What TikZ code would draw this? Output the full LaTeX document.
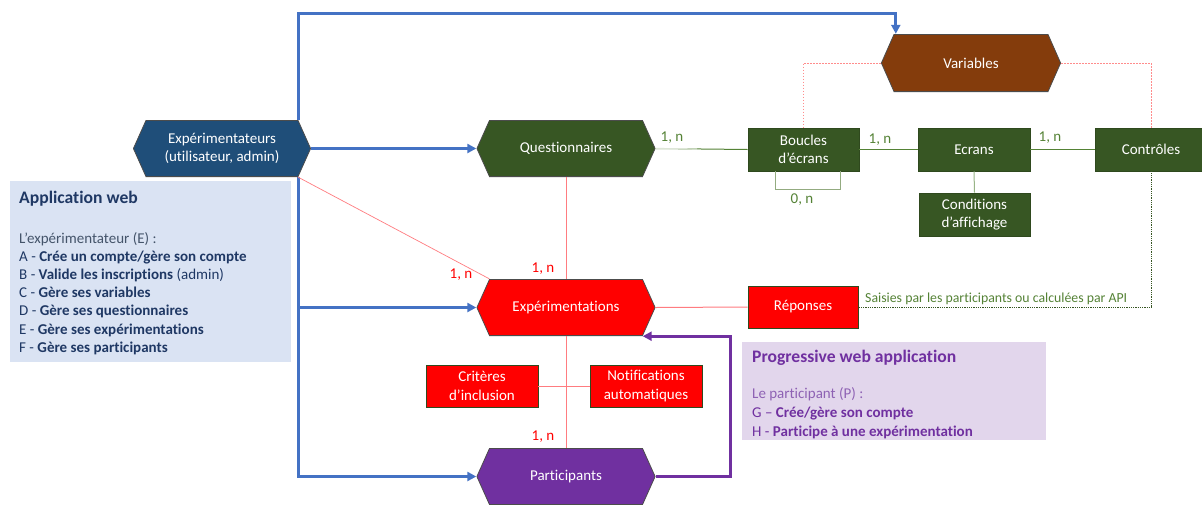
\documentclass[tikz,border=0pt]{standalone}
\usepackage{fontspec}
\setmainfont{Carlito}[Ligatures=NoCommon]
\usetikzlibrary{arrows.meta,calc}
\definecolor{hexblue}{HTML}{1F4E79}
\definecolor{dgreen}{HTML}{375623}
\definecolor{varbrown}{HTML}{843C0C}
\definecolor{pviolet}{HTML}{7030A0}
\definecolor{conblue}{HTML}{4472C4}
\definecolor{lnred}{HTML}{FF7C80}
\definecolor{lngreen}{HTML}{548235}
\definecolor{appfill}{HTML}{DAE3F3}
\definecolor{pwafill}{HTML}{E2D6EC}
\definecolor{navy}{HTML}{1F3864}
\definecolor{slate}{HTML}{44546A}
\definecolor{lightviolet}{HTML}{8E62B4}
\definecolor{pinkline}{HTML}{FF8C8C}
\definecolor{loopgreen}{HTML}{93AB80}
\newcommand\fs[2]{\fontsize{#1}{#2}\selectfont}
\begin{document}
\begin{tikzpicture}[x=1pt,y=-1pt,
  hexa/.style={inner sep=0pt, minimum width=179pt, minimum height=57pt, text=white, align=center,
    font=\fs{15}{18.3},
    path picture={\filldraw[fill=#1, draw=black!70, line width=0.8pt]
      ([xshift=0.4pt]path picture bounding box.west)
      -- ([xshift=13pt,yshift=-0.4pt]path picture bounding box.north west)
      -- ([xshift=-13pt,yshift=-0.4pt]path picture bounding box.north east)
      -- ([xshift=-0.4pt]path picture bounding box.east)
      -- ([xshift=-13pt,yshift=0.4pt]path picture bounding box.south east)
      -- ([xshift=13pt,yshift=0.4pt]path picture bounding box.south west) -- cycle;}},
  rectbox/.style={fill=#1, draw=dgreen!85!black, line width=0.7pt, minimum width=111pt, minimum height=43pt,
    inner sep=1pt, text=white, align=center, font=\fs{15}{18.3}},
  bluecon/.style={draw=conblue, line width=3pt, -{Triangle[length=9pt,width=9pt]}},
  purcon/.style={draw=pviolet, line width=3pt, -{Triangle[length=9pt,width=9pt]}},
  redcon/.style={draw=lnred, line width=1pt},
  redthin/.style={draw=lnred, line width=0.7pt},
  greencon/.style={draw=lngreen, line width=1pt},
  greenlight/.style={draw=lngreen!60, line width=1pt},
  loopcon/.style={draw=loopgreen, line width=1pt},
  greendot/.style={draw=dgreen, line width=0.8pt, densely dotted},
  pinkdot/.style={draw=pinkline, line width=1pt, dash pattern=on 1.5pt off 1.5pt},
  glabel/.style={inner sep=0pt, text=lngreen, font=\fs{15}{18}},
  rlabel/.style={inner sep=0pt, text=red, font=\fs{15}{18}},
  appline/.style={anchor=base west, inner sep=0pt, text=navy, font=\fs{15}{18.2}},
  pwaline/.style={anchor=base west, inner sep=0pt, text=pviolet, font=\fs{15}{18.2}},
]
\useasboundingbox (0,0) rectangle (1202,504);
\fill[white] (0,0) rectangle (1202,504);

% info boxes
\node[fill=appfill, minimum width=281pt, minimum height=181pt, anchor=north west, inner sep=0pt] (appweb) at (10,181) {};
\node[appline, font=\fs{17.6}{20}\bfseries] (appt) at (19,203) {Application web};
\node[appline, text=slate] (app0) at (19,243) {L’expérimentateur (E) :};
\node[appline] (appA) at (19,261.2) {A - \textbf{Crée un compte/gère son compte}};
\node[appline] (appB) at (19,279.4) {B - \textbf{Valide les inscriptions} (admin)};
\node[appline] (appC) at (19,297.6) {C - \textbf{Gère ses variables}};
\node[appline] (appD) at (19,315.8) {D - \textbf{Gère ses questionnaires}};
\node[appline] (appE) at (19,334) {E - \textbf{Gère ses expérimentations}};
\node[appline] (appF) at (19,352.2) {F - \textbf{Gère ses participants}};

\node[fill=pwafill, minimum width=304pt, minimum height=98pt, anchor=north west, inner sep=0pt] (pwa) at (742,342) {};
\node[pwaline, font=\fs{17.6}{20}\bfseries] (pwat) at (752,362.5) {Progressive web application};
\node[pwaline, text=lightviolet] (pwa0) at (752,398) {Le participant (P) :};
\node[pwaline] (pwaG) at (752,417) {G – \textbf{Crée/gère son compte}};
\node[pwaline] (pwaH) at (752,436) {H - \textbf{Participe à une expérimentation}};

% main nodes
\node[hexa=hexblue, minimum width=178pt] (ex) at (222,148.5) {Expérimentateurs\\(utilisateur, admin)};
\node[hexa=dgreen] (q) at (566,148.5) {Questionnaires};
\node[hexa=varbrown, minimum width=180pt, minimum height=58pt] (var) at (971,63) {Variables};
\node[hexa=red] (expe) at (566,307.5) {Expérimentations};
\node[hexa=pviolet] (part) at (566,476.5) {Participants};
\node[rectbox=dgreen] (boucles) at (803.5,149.5) {Boucles\\d’écrans};
\node[rectbox=dgreen, minimum width=112pt] (ecrans) at (974,149.5) {Ecrans};
\node[rectbox=dgreen, minimum width=112pt] (controles) at (1151,149.5) {Contrôles};
\node[rectbox=dgreen] (cond) at (974.5,214.5) {Conditions\\d’affichage};
\node[rectbox=red, minimum width=110pt, minimum height=42pt] (rep) at (803,307) {Réponses};
\node[rectbox=red, minimum width=112pt, minimum height=42pt] (crit) at (482,386) {Critères\\d’inclusion};
\node[rectbox=red, minimum width=112pt, minimum height=42pt] (notif) at (646,386) {Notifications\\automatiques};

% blue connectors
\coordinate (topy) at (0,13);
\draw[bluecon] (ex.east) -- (q.west);
\draw[bluecon] ([xshift=-13pt]ex.north east) -- ([xshift=-13pt]ex.north east |- topy) -| ([xshift=15pt]var.north west);
\draw[bluecon] ([xshift=-13pt]ex.south east) |- (expe.west);
\draw[bluecon] ([xshift=-13pt]ex.south east) |- (part.west);

% purple connector
\draw[purcon] (part.east) -- ++(75,0) |- ([xshift=-13pt]expe.south east);

% red connectors
\draw[redcon] (q.south) -- (expe.north);
\draw[redcon] (expe.south) -- (part.north);
\draw[redcon] (crit.east) -- (notif.west);
\draw[redcon] (expe.east) -- (rep.west);
\draw[redthin] ([xshift=-13pt]ex.south east) -- ([xshift=13pt]expe.north west);

% green connectors
\draw[greencon] (q.east) -- (boucles.west);
\draw[draw=lngreen!20, line width=1.2pt] (q.east) -- ($(q.east)!0.45!(boucles.west)$);
\draw[greencon] (boucles.east) -- (ecrans.west);
\draw[greencon] (ecrans.east) -- (controles.west);
\draw[greenlight] (ecrans.south) -- (cond.north);
\draw[loopcon] ([xshift=-28.5pt]boucles.south) -- ++(0,18) -| ([xshift=36.5pt]boucles.south);
\draw[greendot] (controles.south) |- (rep.east);
\draw[pinkdot] (var.west) -| (boucles.north);
\draw[pinkdot] (var.east) -| (controles.north);

% labels
\node[glabel] (lqb) at (672,138) {1, n};
\node[glabel] (lbe) at (880,140) {1, n};
\node[glabel] (lec) at (1050,138) {1, n};
\node[glabel] (lbb) at (802,200) {0, n};
\node[rlabel] (lqe) at (543,269) {1, n};
\node[rlabel] (lxe) at (461,275) {1, n};
\node[rlabel] (lep) at (543,437) {1, n};
\node[anchor=base west, inner sep=0pt, font=\fs{13.8}{16}, text=lngreen] (saisies) at (865,302) {Saisies par les participants ou calculées par API};
\end{tikzpicture}
\end{document}
